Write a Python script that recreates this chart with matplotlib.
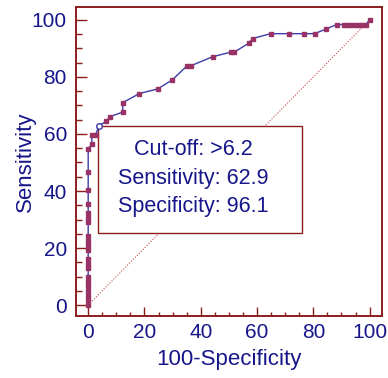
import matplotlib
matplotlib.use("Agg")
import matplotlib.pyplot as plt
from matplotlib.patches import Rectangle

plt.rcParams['font.family'] = ['Liberation Sans', 'DejaVu Sans']

# ROC curve points (100-Specificity, Sensitivity)
fpr = [0, 0, 0, 0, 0, 0, 0, 0, 0, 0, 0, 0, 0, 0, 0, 0, 0, 0, 0, 0, 0,
       1.3, 1.3, 2.6, 3.9, 6.5, 7.8, 12.3, 12.3, 18.2, 24.7, 29.9, 35.1, 36.4,
       44.2, 50.6, 51.9, 57.1, 58.4, 64.9, 71.4, 76.6, 80.5, 84.4, 88.3,
       90.9, 92.2, 93.5, 94.8, 96.1, 97.4, 98.7, 100]
tpr = [0, 1.6, 3.2, 4.8, 6.5, 8.1, 9.7, 12.9, 14.5, 16.1, 19.4, 21.0, 22.6,
       24.2, 29.0, 30.6, 32.3, 35.5, 40.3, 46.8, 54.8,
       56.5, 59.7, 59.7, 62.9, 64.5, 66.1, 67.7, 71.0, 74.2, 75.8, 79.0, 83.9, 83.9,
       87.1, 88.7, 88.7, 91.9, 93.5, 95.2, 95.2, 95.2, 95.2, 96.8, 98.4,
       98.4, 98.4, 98.4, 98.4, 98.4, 98.4, 98.4, 100]

cutoff_x = 3.9
cutoff_y = 62.9
box_lines = ["Cut-off: >6.2", "Sensitivity: 62.9", "Specificity: 96.1"]
ticks = [0, 20, 40, 60, 80, 100]

NAVY = '#16168a'
MAROON = '#8c1c1c'
LINE = '#3c3cac'
MARK = '#993366'

fig = plt.figure(figsize=(3.88, 3.78), dpi=100)
ax = fig.add_axes([76/388, (378-315.7)/378, 306/388, 308.4/378])
ax.set_xlim(-4.33, 104.4)
ax.set_ylim(-3.75, 104.45)

# diagonal reference
ax.plot([0, 100], [0, 100], linestyle=(0, (1, 1.5)), color='#c05050', lw=0.8, zorder=1)

# info box anchored at cutoff point
ax.add_patch(Rectangle((3.6, 25.2), 76.1-3.6, 62.9-25.2, facecolor='white',
                       edgecolor=MAROON, lw=1.0, zorder=2))
for txt, yy in zip(box_lines, [54.6, 44.5, 34.7]):
    ax.text(37.3, yy, txt, ha='center', va='center', fontsize=15.5, color=NAVY, zorder=3)

# ROC curve
ax.plot(fpr, tpr, color=LINE, lw=1.0, zorder=4)
ax.plot(fpr, tpr, linestyle='none', marker='s', ms=2.5, color=MARK, mec=MARK, zorder=5)
ax.plot([cutoff_x], [cutoff_y], linestyle='none', marker='o', ms=4.0, mfc='white',
        mec=LINE, mew=1.0, zorder=6)

for s in ax.spines.values():
    s.set_color(MAROON)
    s.set_linewidth(1.4)

ax.set_xticks(ticks)
ax.set_yticks(ticks)
ax.set_xticks(range(0, 101, 5), minor=True)
ax.set_yticks(range(0, 101, 5), minor=True)
ax.tick_params(axis='both', which='both', direction='in', color=MAROON, width=1.0,
               labelcolor=NAVY, labelsize=15)
ax.tick_params(axis='y', which='major', length=7.9, pad=6.5)
ax.tick_params(axis='y', which='minor', length=4.3)
ax.tick_params(axis='x', which='major', length=6.5, pad=5)
ax.tick_params(axis='x', which='minor', length=2.9)

ax.set_xlabel('100-Specificity', fontsize=16, color=NAVY)
ax.set_ylabel('Sensitivity', fontsize=16, color=NAVY)
ax.xaxis.set_label_coords(0.5, (315.7-360)/308.4)
ax.xaxis.label.set_va('center')
ax.yaxis.set_label_coords((25-76)/306, 0.5)
ax.yaxis.label.set_va('center')

fig.savefig('out.png', dpi=100)
